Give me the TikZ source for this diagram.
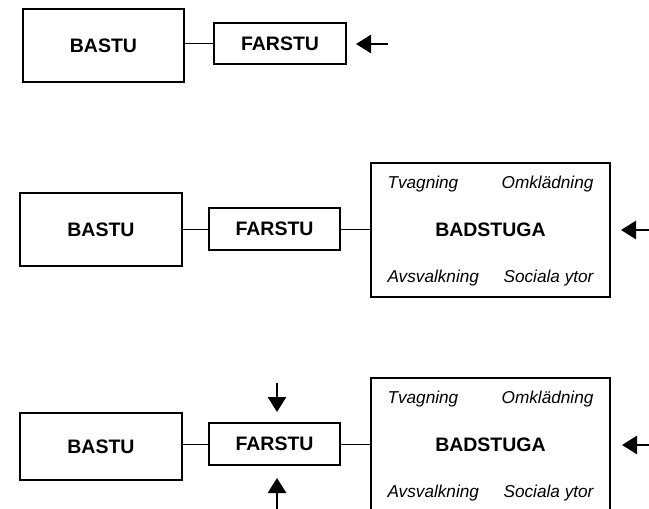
\documentclass[tikz,border=0pt]{standalone}
\usepackage{fontspec}
\setmainfont{Liberation Sans}
\usetikzlibrary{arrows.meta}
\begin{document}
\begin{tikzpicture}[x=1pt,y=-1pt,
  box/.style={draw,line width=1.3pt,rectangle,inner sep=0pt,font=\fontsize{19.5}{21}\selectfont\bfseries},
  conn/.style={line width=1pt},
  bigarrow/.style={line width=2.8pt,-{Triangle[length=15pt,width=18pt]}},
  sub/.style={inner sep=0pt,font=\fontsize{17.2}{19}\selectfont\itshape}]
\useasboundingbox (0,0) rectangle (649,509);
\clip (0,0) rectangle (649,509);
% row 1
\node[box,minimum width=161pt,minimum height=73pt] (b1) at (103.5,45.5) {BASTU};
\node[box,minimum width=132pt,minimum height=41pt] (f1) at (280,43.5) {FARSTU};
\draw[conn] (b1.east |- f1.west) -- (f1.west);
\coordinate (a1s) at (388,44);
\coordinate (a1e) at (356,44);
\draw[bigarrow] (a1s) -- (a1e);
% row 2
\node[box,minimum width=162pt,minimum height=73pt] (b2) at (101,229.5) {BASTU};
\node[box,minimum width=131pt,minimum height=42pt] (f2) at (274.5,229) {FARSTU};
\node[box,minimum width=239pt,minimum height=134pt] (g2) at (490.5,230) {BADSTUGA};
\draw[conn] (b2.east |- f2.west) -- (f2.west);
\draw[conn] (f2.east) -- (g2.west |- f2.east);
\node[sub,anchor=west] (t2) at ([xshift=17pt,yshift=-22pt]g2.north west) {Tvagning};
\node[sub,anchor=east] (o2) at ([xshift=-17pt,yshift=-22pt]g2.north east) {Omklädning};
\node[sub,anchor=west] (v2) at ([xshift=17pt,yshift=20pt]g2.south west) {Avsvalkning};
\node[sub,anchor=east] (s2) at ([xshift=-17pt,yshift=20pt]g2.south east) {Sociala ytor};
\coordinate (a2s) at (660,230);
\coordinate (a2e) at (621,230);
\draw[bigarrow] (a2s) -- (a2e);
% row 3
\node[box,minimum width=162pt,minimum height=67pt] (b3) at (101,446.5) {BASTU};
\node[box,minimum width=131pt,minimum height=42pt] (f3) at (274.5,444) {FARSTU};
\node[box,minimum width=239pt,minimum height=134pt] (g3) at (490.5,445) {BADSTUGA};
\draw[conn] (b3.east |- f3.west) -- (f3.west);
\draw[conn] (f3.east) -- (g3.west |- f3.east);
\node[sub,anchor=west] (t3) at ([xshift=17pt,yshift=-22pt]g3.north west) {Tvagning};
\node[sub,anchor=east] (o3) at ([xshift=-17pt,yshift=-22pt]g3.north east) {Omklädning};
\node[sub,anchor=west] (v3) at ([xshift=17pt,yshift=20pt]g3.south west) {Avsvalkning};
\node[sub,anchor=east] (s3) at ([xshift=-17pt,yshift=20pt]g3.south east) {Sociala ytor};
\coordinate (a3s) at (660,445);
\coordinate (a3e) at (622,445);
\draw[bigarrow] (a3s) -- (a3e);
\coordinate (d3s) at (277,383);
\coordinate (d3e) at (277,412);
\draw[bigarrow] (d3s) -- (d3e);
\coordinate (u3s) at (277,520);
\coordinate (u3e) at (277,478);
\draw[bigarrow] (u3s) -- (u3e);
\end{tikzpicture}
\end{document}
